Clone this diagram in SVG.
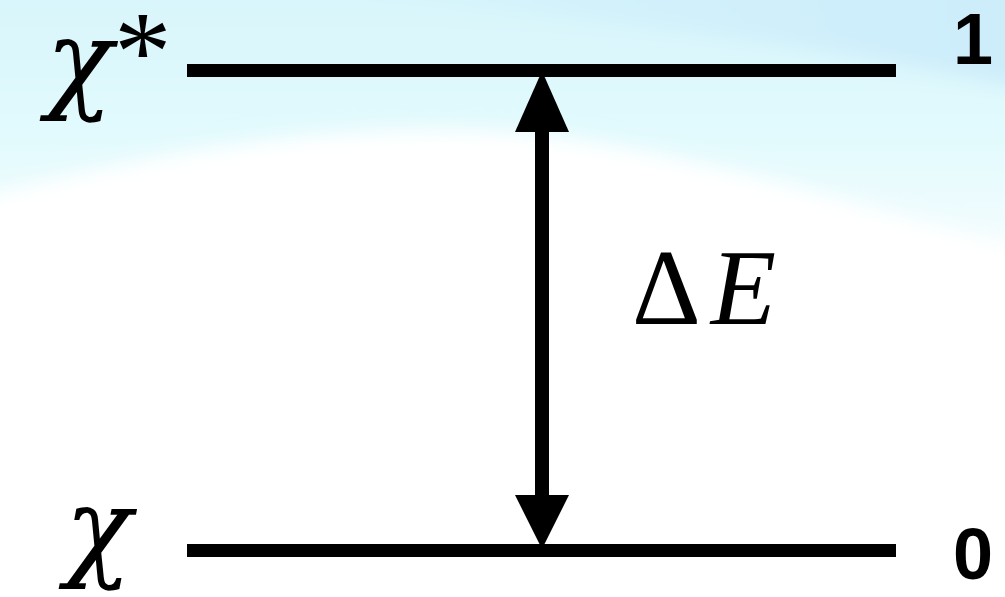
<svg xmlns="http://www.w3.org/2000/svg" width="1005" height="597" viewBox="0 0 1005 597">
<defs>
<linearGradient id="sky" x1="0" y1="0" x2="0" y2="1">
<stop offset="0" stop-color="#d6f5fb"/>
<stop offset="0.6" stop-color="#e2fafd"/>
<stop offset="1" stop-color="#f4fdfe"/>
</linearGradient>
<linearGradient id="band" x1="0" y1="0" x2="1" y2="0">
<stop offset="0" stop-color="#d2f1fb" stop-opacity="0"/>
<stop offset="0.4" stop-color="#d0f0fb" stop-opacity="0.8"/>
<stop offset="1" stop-color="#ccecfb"/>
</linearGradient>
<filter id="soft" x="-0.1" y="-0.1" width="1.2" height="1.3"><feGaussianBlur stdDeviation="10"/></filter>
</defs>
<style>
.lvl{fill:#000}
.sym{font-family:"Liberation Serif","Times New Roman",serif;fill:#000}
.chi{font-family:"DejaVu Serif","Liberation Serif",serif;font-style:italic;fill:#000}
.num{font-family:"Liberation Sans",Arial,sans-serif;font-weight:bold;font-size:72px;fill:#000}
</style>
<g id="background">
<rect x="0" y="0" width="1005" height="597" fill="#ffffff"/>
<g filter="url(#soft)">
<path d="M-30,-30 H1035 V250 C850,205 700,150 520,132 C350,118 150,150 -30,200 Z" fill="url(#sky)"/>
<path d="M300,-30 H1035 V90 C880,60 700,25 300,-5 Z" fill="url(#band)"/>
</g>
</g>
<g id="level-excited">
<rect class="lvl" x="187" y="64" width="709" height="13"/>
<text class="chi" x="46" y="98" font-size="110">χ</text>
<text class="sym" x="114" y="90" font-size="115">*</text>
<text class="num" x="953" y="64">1</text>
</g>
<g id="level-ground">
<rect class="lvl" x="187" y="544" width="709" height="13"/>
<text class="chi" x="65" y="566" font-size="110">χ</text>
<text class="num" x="953" y="579">0</text>
</g>
<g id="connectors">
<rect class="lvl" x="535" y="120" width="14" height="390"/>
<polygon class="lvl" points="542,71 515,132 569,132"/>
<polygon class="lvl" points="542,549 515,495 569,495"/>
</g>
<g id="label-deltaE">
<text class="sym" x="632" y="324" font-size="107">Δ<tspan font-style="italic" dx="10">E</tspan></text>
</g>
</svg>
